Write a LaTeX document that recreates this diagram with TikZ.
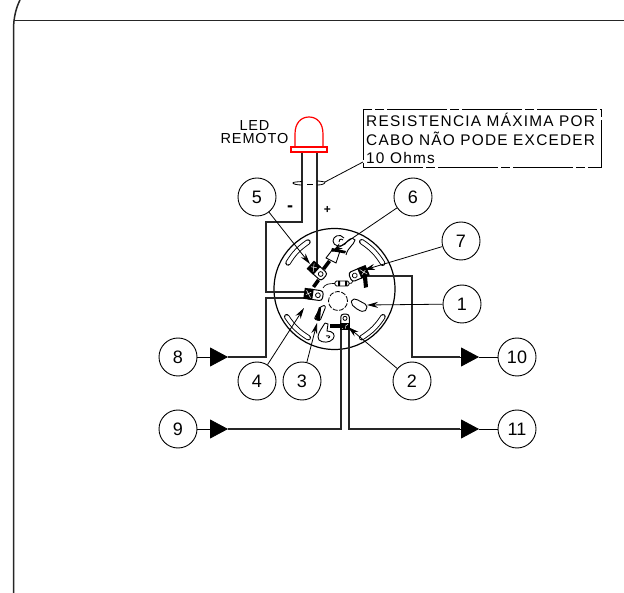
\documentclass[tikz,border=0pt]{standalone}
\usepackage{fontspec}
\setmainfont{Liberation Sans}
\newfontfamily\cadfont[LetterSpace = 6]{Liberation Sans}
\newfontfamily\notefont[LetterSpace = 8]{Liberation Sans}
\usetikzlibrary{arrows.meta}
\tikzset{
	wire/.style = {line width = 1.5pt,black!85},
	tag/.style = {circle,draw,line width = 0.9pt,minimum size = 38pt,inner sep = 0pt,font = \fontsize{18}{18}\selectfont},
	lead/.style = {line width = 0.8pt},
	leadtip/.style = {lead,-{Stealth[length = 11pt,width = 6pt]}},
	feed/.style = {lead,-{Triangle[length = 18pt,width = 19pt]}},
	slot/.style = {double,double distance = 3.6pt,line width = 0.9pt,line cap = round},
	lug/.pic = {
		\draw[line width = 1pt,fill = white,rounded corners = 3pt] (-3,-5) -- (14,-5) -- (14,5) -- (-3,5) -- cycle;
		\draw[line width = 0.8pt] (9,0) circle (2.4pt);
		\fill[black] (-5,-5.5) rectangle (4,5.5);
		\draw[white,line width = 0.5pt] (-3,-3.5) -- (2,3.5) (-3,1) -- (2,-2);
	}
}
\begin{document}
\begin{tikzpicture}[x = 1pt,y = -1pt]
	\useasboundingbox (0,0) rectangle (624,593);
	% frame
	\draw[wire] (20,0) .. controls (16,8) and (13.5,18) .. (13.5,30) -- (13.5,593);
	\draw[wire] (13.5,20.5) -- (624,20.5);

	% base
	\coordinate (hub) at (334.5,289);
	\draw[line width = 1.2pt] (hub) circle (60.5pt);
	\draw[line width = 0.8pt,dash pattern = on 5pt off 1.5pt] (338,301) circle (9.5pt);
	\draw[slot] (288,263) to[bend left = 12] (308,242);
	\draw[slot] (361.7,241.7) to[bend left = 12] (382.7,263.3);
	\draw[slot] (383,316.7) to[bend left = 12] (361.7,337.7);
	\draw[slot] (308.3,337.7) to[bend left = 12] (286.7,316.7);

	% numbered tags
	\node[tag] (t5) at (257,197) {5};
	\node[tag] (t6) at (413,197) {6};
	\node[tag] (t7) at (461,241) {7};
	\node[tag] (t1) at (462,304) {1};
	\node[tag] (t2) at (412,381) {2};
	\node[tag] (t3) at (302,381) {3};
	\node[tag] (t4) at (257,381) {4};
	\node[tag] (t8) at (178,357) {8};
	\node[tag] (t9) at (178,429) {9};
	\node[tag] (t10) at (517,357) {10};
	\node[tag] (t11) at (517,429) {11};

	% wire ends
	\coordinate (a5) at (310,264);
	\coordinate (a6) at (332,252);
	\coordinate (a7) at (364,270);
	\coordinate (a1) at (367,305);
	\coordinate (a2) at (348,327);
	\coordinate (a3) at (317,323);
	\coordinate (a4) at (304,308);
	\coordinate (p8) at (228,357);
	\coordinate (p9) at (228,429);
	\coordinate (p10) at (479,357);
	\coordinate (p11) at (479,429);
	\coordinate (q10) at (460,357);
	\coordinate (q11) at (460,429);

	% wiring
	\draw[wire] (p8) -- (266,357) -- (266,298) -- (312,298);
	\draw[wire] (p9) -- (341,429) -- (341,320);
	\draw[wire] (349,322) -- (349,429) -- (q11);
	\draw[wire] (360,276) -- (412,276) -- (412,357) -- (q10);
	\draw[feed] (t8) -- (p8);
	\draw[feed] (t9) -- (p9);
	\draw[lead] (p10) -- (t10);
	\draw[lead] (p11) -- (t11);
	\draw[feed] (q10) -- (p10);
	\draw[feed] (q11) -- (p11);

	% led
	\draw[wire] (302,152) -- (302,222) -- (266,222) -- (266,292) -- (310,292);
	\draw[wire] (317,152) -- (317,268);
	\draw[red,line width = 1.2pt,fill = white] (295,147) -- (295,134) .. controls (295,123) and (301,117) .. (309,117) .. controls (317,117) and (323,123) .. (323,134) -- (323,147);
	\draw[red,line width = 1.2pt,fill = white] (291,147) rectangle (327,152);
	\node[inner sep = 0pt,align = center,font = \cadfont\fontsize{14.5}{13}\selectfont] (ledtxt) at (254.5,132.5) {LED\\REMOTO};
	\node[font = \bfseries\fontsize{18}{18}\selectfont,inner sep = 0pt] (minus) at (290,209) {-};
	\node[font = \bfseries\fontsize{12}{12}\selectfont,inner sep = 0pt] (plus) at (327.5,210) {+};

	% note
	\node[draw,line width = 0.8pt,dash pattern = on 60pt off 3pt on 9pt off 3pt,minimum width = 238pt,minimum height = 58pt,inner sep = 0pt] (note) at (482,138) {};
	\node[anchor = north west,inner sep = 0pt,align = left,font = \notefont\fontsize{15.4}{18.5}\selectfont] (notetxt) at (366,113) {RESISTENCIA MÁXIMA POR\\CABO NÃO PODE EXCEDER\\10 Ohms};
	\coordinate (cab) at (325,182);
	\coordinate (noteend) at (363,162);
	\draw[lead] (noteend) -- (cab);
	\draw[lead] (302,181.5) .. controls (296,182) and (293,182) .. (293,183) .. controls (293,184) and (297,185) .. (302,185);
	\draw[lead] (317,185) .. controls (322,185) and (325,184) .. (cab);
	\draw[lead] (317,181) -- (320,181.2) -- (cab);
	\draw[lead] (307,184) -- (313,184);

	% terminals
	\path (314,268) pic[rotate = -42] {lug};
	\path (309,294) pic[rotate = -8] {lug};
	\path (363,272) pic[rotate = 203] {lug};
	\path (345,326) pic[rotate = 90,scale = 0.85] {lug};
	\fill[black] (330,324) rectangle (345,328);
	\fill[black] (363,278) -- (367,276) -- (368,287) -- (364,288) -- cycle;
	\fill[black] (312,286) -- (317,279) -- (320,281) -- (315,288) -- cycle;
	\fill[black] (322,268) -- (328,260) -- (331,262) -- (325,270) -- cycle;
	% open lugs and hooks
	\draw[line width = 0.9pt,fill = white,rounded corners = 2pt] (322,305) -- (326,306) -- (320,321) -- (314,319) -- cycle;
	\fill[black] (315,319) -- (319,307) -- (321,308) -- (320,321) -- cycle;
	\draw[line width = 0.9pt,rounded corners = 2pt] (352,299) -- (356,299) -- (367,305) -- (367,309) -- (364,312) -- (358,310) -- (351,304) -- cycle;
	\draw[line width = 0.9pt] (325,323) -- (328,324) -- (327,331) .. controls (333,331) and (336,335) .. (333,339) .. controls (330,343) and (322,343) .. (319,340) .. controls (316,336) and (320,331) .. (325,323);
	\draw[line width = 0.9pt] (326,336) .. controls (330,335) and (331,337) .. (328,338);
	\draw[line width = 0.9pt] (344,238) .. controls (340,233) and (333,236) .. (333,241) .. controls (333,246) and (341,248) .. (345,244) .. controls (348,240) and (352,236) .. (355,240) .. controls (354,245) and (348,247) .. (346,255) (343,240) .. controls (341,238) and (338,240) .. (339,242);
	\draw[line width = 0.9pt,fill = white] (333,249) -- (340,251) -- (336,263) -- (326,258) -- cycle;
	\fill[black] (332,248) -- (346,251) -- (345,253.5) -- (331,251) -- cycle;
	% resistor
	\draw[line width = 0.7pt] (323,288) .. controls (325,284) and (329,283.5) .. (335,283.5);
	\draw[line width = 0.7pt] (349,283.5) .. controls (351,284) and (352,283) .. (353,281);
	\draw[line width = 0.8pt,fill = white,rounded corners = 1.5pt] (335,281) rectangle (349,286);
	\fill[black] (338,281) rectangle (340,286) (345,281) rectangle (347,286);

	% leaders
	\draw[leadtip] (t5) -- (a5);
	\draw[leadtip] (t6) -- (a6);
	\draw[leadtip] (t7) -- (a7);
	\draw[leadtip] (t1) -- (a1);
	\draw[leadtip] (t2) -- (a2);
	\draw[leadtip] (t3) -- (a3);
	\draw[leadtip] (t4) -- (a4);
\end{tikzpicture}
\end{document}
